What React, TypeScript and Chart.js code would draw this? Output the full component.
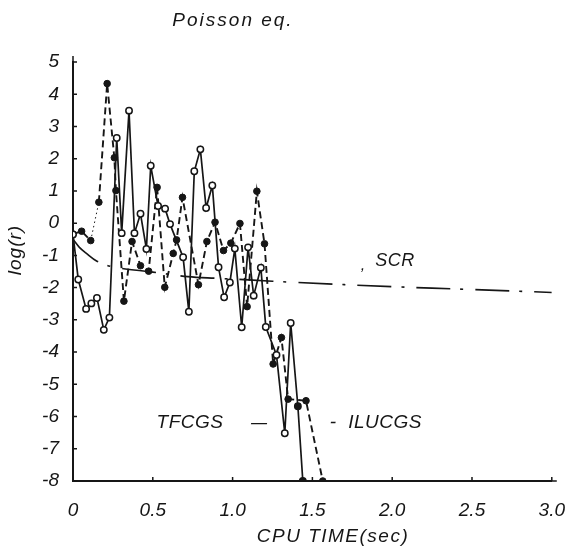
import React, { useEffect, useRef } from "react";
import { Chart, registerables } from "chart.js";
Chart.register(...registerables);

// ---- data ----
const xTickValues = [0, 0.5, 1, 1.5, 2, 2.5, 3];
const yTickValues = [5, 4, 3, 2, 1, 0, -1, -2, -3, -4, -5, -6, -7, -8];

const tfcgsTime = [0, 0.033, 0.082, 0.115, 0.15, 0.193, 0.228, 0.274, 0.305, 0.351, 0.385, 0.423, 0.46, 0.487, 0.533, 0.577, 0.608, 0.69, 0.726, 0.76, 0.798, 0.834, 0.873, 0.912, 0.947, 0.983, 1.014, 1.057, 1.097, 1.132, 1.177, 1.208, 1.275, 1.327, 1.364, 1.409, 1.44];
const tfcgsLog = [-0.35, -1.75, -2.66, -2.49, -2.32, -3.31, -2.93, 2.64, -0.31, 3.49, -0.31, 0.29, -0.8, 1.78, 0.53, 0.45, -0.03, -1.06, -2.75, 1.61, 2.29, 0.47, 1.17, -1.37, -2.3, -1.84, -0.79, -3.23, -0.75, -2.25, -1.38, -3.22, -4.09, -6.52, -3.1, -5.68, -8];

const ilucgsTime = [0, 0.054, 0.111, 0.162, 0.214, 0.259, 0.269, 0.319, 0.37, 0.423, 0.474, 0.527, 0.575, 0.628, 0.649, 0.686, 0.786, 0.839, 0.89, 0.943, 0.989, 1.046, 1.091, 1.152, 1.2, 1.254, 1.306, 1.348, 1.46, 1.565];
const ilucgsLog = [-0.34, -0.25, -0.54, 0.65, 4.33, 2.03, 1.01, -2.42, -0.57, -1.32, -1.49, 1.11, -1.99, -0.94, -0.52, 0.8, -1.91, -0.57, 0.03, -0.85, -0.62, -0.01, -2.59, 0.99, -0.64, -4.37, -3.55, -5.46, -5.51, -8];

const scrTime = [0, 0.04, 0.08, 0.15, 0.24, 0.3, 0.5, 0.72, 0.9, 1.1, 1.4, 2.0, 2.5, 3.0];
const scrLog = [-0.5, -0.75, -0.92, -1.18, -1.35, -1.4, -1.52, -1.66, -1.71, -1.76, -1.84, -1.97, -2.06, -2.15];

const INK = "#161616";
const FONT = "'Liberation Sans', 'DejaVu Sans', sans-serif";

const zip = (xs: number[], ys: number[]) => xs.map((x, i) => ({ x, y: ys[i] }));

const annotations = {
  id: "annotations",
  afterDraw(chart: any) {
    const ctx = chart.ctx as CanvasRenderingContext2D;
    const xs = chart.scales.x;
    const ys = chart.scales.y;
    const area = chart.chartArea;
    ctx.save();
    ctx.strokeStyle = INK;
    ctx.lineWidth = 1.5;
    // inner tick marks
    ctx.beginPath();
    yTickValues.forEach((v) => {
      const py = ys.getPixelForValue(v);
      ctx.moveTo(area.left, py);
      ctx.lineTo(area.left + 4, py);
    });
    xTickValues.forEach((v) => {
      const px = xs.getPixelForValue(v);
      ctx.moveTo(px, area.bottom);
      ctx.lineTo(px, area.bottom - 4);
    });
    // axis overshoot
    ctx.moveTo(area.left, area.top);
    ctx.lineTo(area.left, area.top - 6);
    ctx.moveTo(area.right, area.bottom);
    ctx.lineTo(area.right + 5, area.bottom);
    ctx.stroke();

    ctx.fillStyle = INK;
    ctx.textAlign = "center";
    ctx.textBaseline = "middle";
    const txt = (s: string, x: number, y: number, size: number, spacing = 0) => {
      ctx.font = `italic ${size}px ${FONT}`;
      (ctx as any).letterSpacing = `${spacing}px`;
      ctx.fillText(s, x, y);
    };
    txt("Poisson eq.", 233, 21, 19, 2);
    txt("CPU TIME(sec)", 333, 537, 19, 1.5);
    txt("TFCGS", 190, 423, 19, 0.5);
    txt("—", 259, 424, 16);
    txt("-", 333, 423, 19);
    txt("ILUCGS", 385, 423, 19, 0.5);
    txt(",", 363, 266, 16);
    txt("SCR", 395, 261, 18, 0.5);
    ctx.save();
    ctx.translate(16, 250);
    ctx.rotate(-Math.PI / 2);
    txt("log(r)", 0, 0, 19, 1);
    ctx.restore();
    (ctx as any).letterSpacing = "0px";
    ctx.restore();
  },
};

export default function App() {
  const ref = useRef<HTMLCanvasElement | null>(null);
  useEffect(() => {
    if (!ref.current) return;
    const lastIdx = tfcgsTime.length - 1;
    const chart = new Chart(ref.current, {
      type: "line",
      data: {
        datasets: [
          {
            label: "SCR",
            data: zip(scrTime, scrLog),
            borderColor: INK,
            borderWidth: 1.6,
            borderDash: [34, 10, 3, 12],
            pointRadius: 0,
            tension: 0.35,
            fill: false,
          },
          {
            label: "TFCGS",
            data: zip(tfcgsTime, tfcgsLog),
            borderColor: INK,
            borderWidth: 1.7,
            pointRadius: 3.2,
            pointBorderWidth: 1.5,
            pointBorderColor: INK,
            pointBackgroundColor: tfcgsTime.map((_, i) => (i === lastIdx || i === lastIdx - 1 ? INK : "#ffffff")),
            tension: 0,
            fill: false,
          },
          {
            label: "ILUCGS",
            data: zip(ilucgsTime, ilucgsLog),
            borderColor: INK,
            borderWidth: 1.9,
            borderDash: [7, 4],
            pointRadius: 3.3,
            pointBorderWidth: 1,
            pointBorderColor: INK,
            pointBackgroundColor: INK,
            tension: 0,
            fill: false,
            segment: {
              borderDash: (c: any) => (c.p0DataIndex === 2 ? [1.5, 3] : undefined),
              borderWidth: (c: any) => (c.p0DataIndex === 2 ? 1 : undefined),
            },
          },
        ],
      },
      options: {
        animation: false,
        responsive: true,
        maintainAspectRatio: false,
        parsing: false as any,
        layout: { padding: { left: 0, right: 15, top: 62, bottom: 0 } },
        plugins: { legend: { display: false }, tooltip: { enabled: false }, title: { display: false } },
        scales: {
          x: {
            type: "linear",
            min: 0,
            max: 3,
            afterFit: (s: any) => {
              s.height = 70;
            },
            afterBuildTicks: (s: any) => {
              s.ticks = xTickValues.map((v) => ({ value: v }));
            },
            ticks: {
              color: INK,
              padding: 10,
              font: { family: FONT, size: 19, style: "italic" },
              callback: (v: any) => (Number(v) === 0 ? "0" : Number(v).toFixed(1)),
              maxRotation: 0,
            },
            grid: { display: false },
            border: { display: true, color: INK, width: 2 },
          },
          y: {
            type: "linear",
            min: -8,
            max: 5,
            afterFit: (s: any) => {
              s.width = 73;
            },
            afterBuildTicks: (s: any) => {
              s.ticks = yTickValues.map((v) => ({ value: v }));
            },
            ticks: {
              color: INK,
              padding: 6,
              font: { family: FONT, size: 19, style: "italic" },
              callback: (v: any) => String(v),
            },
            grid: { display: false },
            border: { display: true, color: INK, width: 2 },
          },
        },
      },
      plugins: [annotations],
    });
    return () => chart.destroy();
  }, []);
  return (
    <div style={{ position: "fixed", left: 0, top: 0, width: 575, height: 551, background: "#fff" }}>
      <canvas ref={ref} />
    </div>
  );
}
